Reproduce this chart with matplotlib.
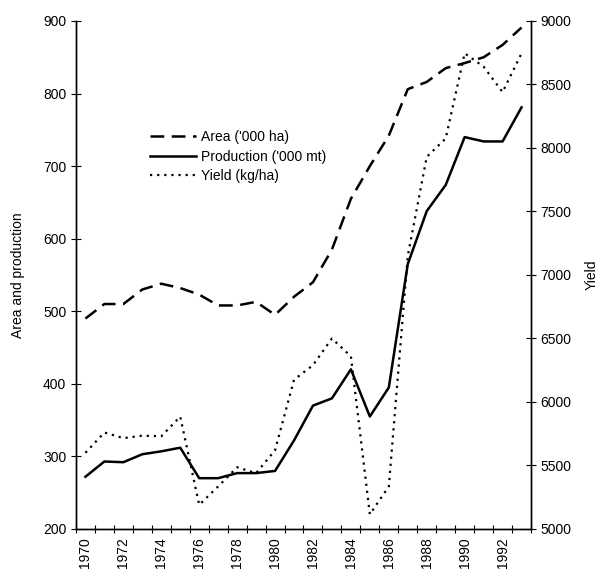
import numpy as np
import matplotlib.pyplot as plt

plt.rcParams['font.family'] = ['Liberation Sans', 'DejaVu Sans']

years = np.arange(1970, 1994)
area = [490, 510, 510, 530, 538, 532, 523, 508, 508, 513, 495, 520,
        540, 585, 655, 700, 742, 806, 816, 835, 842, 850, 867, 891]
production = [272, 293, 292, 303, 307, 312, 270, 270, 277, 277, 280, 322,
              370, 380, 420, 355, 395, 565, 638, 674, 740, 734, 734, 781]
yield_kg = [5600, 5760, 5715, 5735, 5730, 5885, 5190, 5335, 5486, 5440, 5620, 6175,
            6290, 6500, 6360, 5115, 5335, 7150, 7930, 8075, 8745, 8640, 8440, 8745]

tick_labels = [str(y) for y in range(1970, 1994, 2)]

fig = plt.figure(figsize=(5.98, 5.73), dpi=100)
ax = fig.add_axes([0.127, 0.0768, 0.761, 0.8866])
ax2 = ax.twinx()

l1, = ax.plot(years, area, color='black', lw=1.8, dashes=(5.5, 3), label="Area ('000 ha)")
l2, = ax.plot(years, production, color='black', lw=1.8, label="Production ('000 mt)")
l3, = ax2.plot(years, yield_kg, color='black', lw=1.6, dashes=(1, 2.2), label="Yield (kg/ha)")

ax.set_xlim(1969.5, 1993.5)
ax.set_ylim(200, 900)
ax2.set_ylim(5000, 9000)

ax.set_yticks(np.arange(200, 901, 100))
ax2.set_yticks(np.arange(5000, 9001, 500))
ax.set_xticks(np.arange(1969.5, 1994, 1))
ax.set_xticklabels([])
ax.set_xticks(np.arange(1970, 1994, 2), minor=True)
ax.set_xticklabels(tick_labels, minor=True, rotation=90)
ax.tick_params(axis='x', which='minor', length=0, labelsize=10, pad=6)
ax.tick_params(axis='x', which='major', direction='inout', length=6)
ax.tick_params(axis='y', direction='inout', length=7, labelsize=10)
ax2.tick_params(axis='y', direction='inout', length=7, labelsize=10)

for a in (ax, ax2):
    a.spines['top'].set_visible(False)
    for s in ('left', 'right', 'bottom'):
        a.spines[s].set_linewidth(1.0)

ax.set_ylabel('Area and production', fontsize=10, labelpad=13)
ax2.set_ylabel('Yield', fontsize=10, labelpad=9)

ax.legend(handles=[l1, l2, l3], loc='upper left', bbox_to_anchor=(0.135, 0.81),
          frameon=False, fontsize=10, handlelength=3.3, handletextpad=0.4,
          labelspacing=0.4)

fig.savefig('out.png', dpi=100)
